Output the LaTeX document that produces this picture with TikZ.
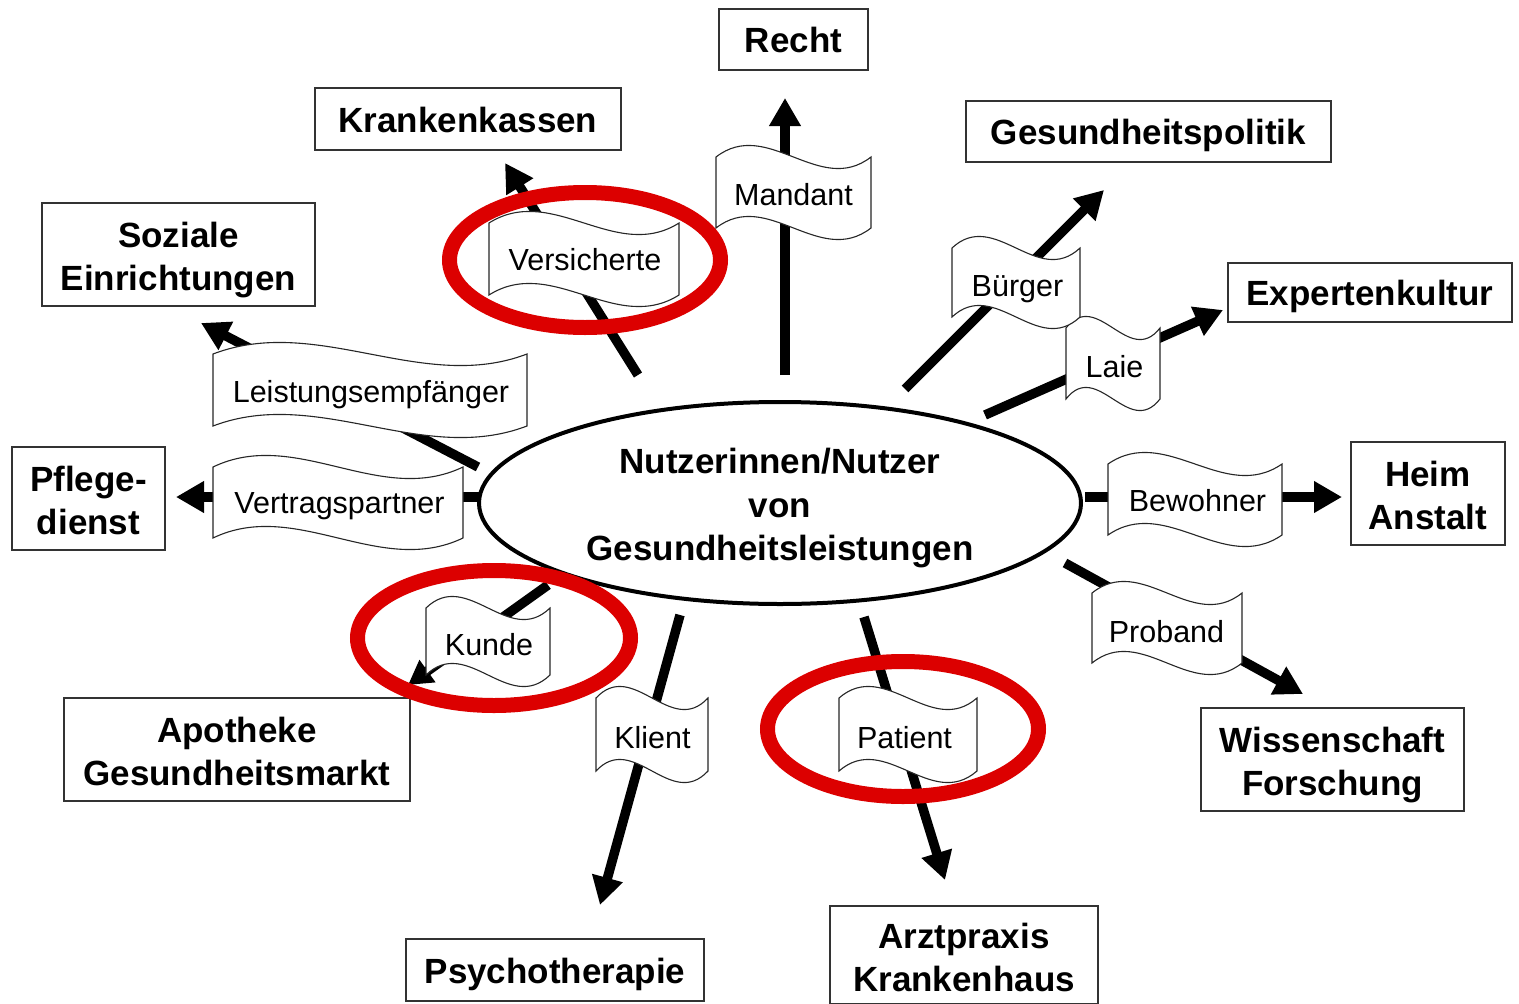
\documentclass[tikz,border=0pt]{standalone}
\usepackage{fontspec}
\setmainfont{Liberation Sans}
\usetikzlibrary{arrows.meta,shapes.geometric}
\definecolor{ringred}{RGB}{220,0,0}
% name, cx, cy, w, h, text, text x, text y
\newcommand\flagbanner[8]{%
  \begin{scope}[shift={(#2,#3)}]
    \draw[bannerline] ({-#4/2},{-#5/2}) .. controls ({-#4/2+#4/3},{-#5/2-40}) and ({-#4/2+2*#4/3},{-#5/2+40}) .. ({#4/2},{-#5/2})
      -- ({#4/2},{#5/2}) .. controls ({-#4/2+2*#4/3},{#5/2+40}) and ({-#4/2+#4/3},{#5/2-40}) .. ({-#4/2},{#5/2}) -- cycle;
  \end{scope}
  \node[bannertext] (#1) at (#7,#8) {#6};}
\begin{document}
\begin{tikzpicture}[x=1pt,y=-1pt,
  box/.style={draw=black!80, line width=1.4pt, fill=white, inner sep=0pt, align=center,
    text height=26pt, text depth=0pt, font=\fontsize{35}{43}\selectfont\bfseries},
  twoline/.style={text height=72pt, text depth=0pt},
  bannertext/.style={inner sep=0pt, text height=22pt, text depth=0pt, font=\fontsize{30.5}{36}\selectfont},
  bannerline/.style={draw=black!85, line width=1.1pt, fill=white},
  flow/.style={line width=9.5pt, -{Triangle[length=28pt,width=30pt]}},
  ring/.style={draw=ringred, line width=15pt},
  hub/.style={ellipse, draw, line width=4pt, fill=white, minimum width=602pt, minimum height=202pt,
    inner sep=0pt, align=center, text height=115pt, text depth=0pt,
    font=\fontsize{35}{43.5}\selectfont\bfseries}]
\useasboundingbox (0,0) rectangle (1519,1004);

% arrow end points
\coordinate (vsS) at (638,375);  \coordinate (vsE) at (505,163);
\coordinate (mdS) at (785,375);  \coordinate (mdE) at (785,98);
\coordinate (leS) at (478,467);  \coordinate (leE) at (201,323);
\coordinate (vpS) at (479,497);  \coordinate (vpE) at (176,497);
\coordinate (buS) at (905,389);  \coordinate (buE) at (1104,190);
\coordinate (laS) at (985,415);  \coordinate (laE) at (1223,310);
\coordinate (bwS) at (1085,497); \coordinate (bwE) at (1342,497);
\coordinate (prS) at (1065,563); \coordinate (prE) at (1303,694);
\coordinate (kuS) at (548,585);  \coordinate (kuE) at (408,685);
\coordinate (klS) at (680,615);  \coordinate (klE) at (600,905);
\coordinate (paS) at (864,617);  \coordinate (paE) at (945,880);

\foreach \a in {vs,md,le,vp,bu,la,bw,pr,kl,pa}
  \draw[flow] (\a S) -- (\a E);
\draw[flow, -{Triangle[length=24pt,width=26pt]}] (kuS) -- (kuE);

% central ellipse
\node[hub] (users) at (780,503) {Nutzerinnen/Nutzer\\von\\Gesundheitsleistungen};

% banners
\flagbanner{versicherte}{584}{259}{190}{72}{Versicherte}{585}{259.5}
\flagbanner{mandant}{793.5}{192.5}{155}{71}{Mandant}{793.5}{194}
\flagbanner{leistung}{370}{390}{314}{72}{Leistungsempfänger}{371}{391}
\flagbanner{vertrag}{338}{502.5}{250}{71}{Vertragspartner}{339.5}{502.5}
\flagbanner{laie}{1113}{363.5}{94}{71}{Laie}{1114.5}{366}
\flagbanner{buerger}{1016}{282.5}{128}{69}{Bürger}{1017.5}{285}
\flagbanner{bewohner}{1195}{499.5}{174}{71}{Bewohner}{1197.5}{500.5}
\flagbanner{proband}{1167}{628}{150}{70}{Proband}{1166.5}{631}
\flagbanner{kunde}{488}{641.5}{124}{67}{Kunde}{489}{644}
\flagbanner{klient}{652}{734.5}{112}{73}{Klient}{652.5}{737.5}
\flagbanner{patient}{908}{734.5}{138}{73}{Patient}{904.5}{737.5}

% boxes
\node[box, minimum width=149pt, minimum height=61pt] (recht) at (793.5,39.5) {Recht};
\node[box, minimum width=306pt, minimum height=62pt] (kk) at (468,119) {Krankenkassen};
\node[box, minimum width=365pt, minimum height=61pt] (gp) at (1148.5,131.5) {Gesundheitspolitik};
\node[box, twoline, minimum width=273pt, minimum height=103pt] (soz) at (178.5,254.5) {Soziale\\Einrichtungen};
\node[box, minimum width=284pt, minimum height=59pt] (exp) at (1370,292.5) {Expertenkultur};
\node[box, twoline, minimum width=153pt, minimum height=103pt] (pfl) at (88.5,498.5) {Pflege-\\dienst};
\node[box, twoline, minimum width=154pt, minimum height=103pt] (heim) at (1428,493.5) {Heim\\Anstalt};
\node[box, twoline, minimum width=346pt, minimum height=103pt] (apo) at (237,749.5) {Apotheke\\Gesundheitsmarkt};
\node[box, twoline, minimum width=263pt, minimum height=103pt] (wiss) at (1332.5,759.5) {Wissenschaft\\Forschung};
\node[box, minimum width=298pt, minimum height=62pt] (psy) at (555,970) {Psychotherapie};
\node[box, twoline, minimum width=268pt, minimum height=98pt] (arzt) at (964,955) {Arztpraxis\\Krankenhaus};

% red rings
\draw[ring] (585,260) ellipse [x radius=135.5pt, y radius=67.5pt];
\draw[ring] (494,638) ellipse [x radius=136.5pt, y radius=67.5pt];
\draw[ring] (903,729) ellipse [x radius=135.5pt, y radius=67.5pt];
\end{tikzpicture}
\end{document}
